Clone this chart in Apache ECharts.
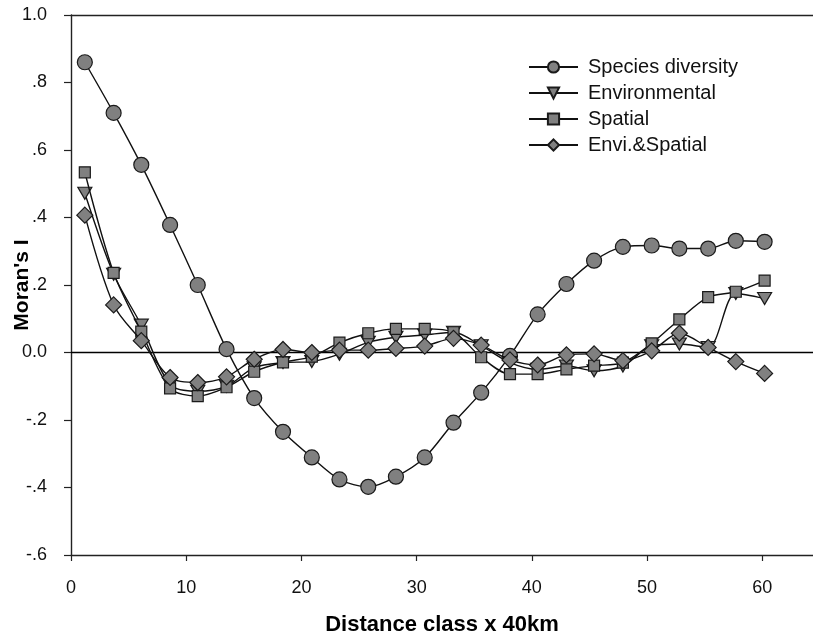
<!DOCTYPE html>
<html>
<head>
<meta charset="utf-8">
<script src="https://cdn.jsdelivr.net/npm/echarts@6/dist/echarts.min.js"></script>
<style>
html,body{margin:0;padding:0;background:#fff;}
#chart{width:813px;height:637px;}
</style>
</head>
<body>
<div id="chart"></div>
<script>
// Distance classes (x 40km)
var distanceClasses = [1.2, 3.7, 6.1, 8.6, 11.0, 13.5, 15.9, 18.4, 20.9, 23.3, 25.8, 28.2, 30.7, 33.2, 35.6, 38.1, 40.5, 43.0, 45.4, 47.9, 50.4, 52.8, 55.3, 57.7, 60.2];

var speciesDiversity = [0.86, 0.71, 0.556, 0.378, 0.2, 0.01, -0.135, -0.235, -0.311, -0.376, -0.398, -0.368, -0.311, -0.208, -0.119, -0.01, 0.113, 0.203, 0.272, 0.313, 0.317, 0.308, 0.308, 0.331, 0.328];
var environmental = [0.472, 0.232, 0.081, -0.095, -0.115, -0.1, -0.045, -0.03, -0.027, -0.005, 0.03, 0.045, 0.052, 0.06, 0.02, -0.03, -0.05, -0.04, -0.054, -0.04, 0.02, 0.025, 0.015, 0.175, 0.16];
var spatial = [0.534, 0.236, 0.062, -0.106, -0.129, -0.103, -0.057, -0.029, -0.012, 0.029, 0.057, 0.07, 0.07, 0.06, -0.014, -0.064, -0.064, -0.05, -0.039, -0.03, 0.027, 0.098, 0.164, 0.18, 0.213];
var enviSpatial = [0.407, 0.141, 0.035, -0.074, -0.089, -0.072, -0.02, 0.009, 0.0, 0.007, 0.007, 0.012, 0.019, 0.042, 0.022, -0.022, -0.037, -0.007, -0.004, -0.024, 0.005, 0.057, 0.015, -0.027, -0.062];

var seriesNames = ['Species diversity', 'Environmental', 'Spatial', 'Envi.&Spatial'];
var yTickValues = [-0.6, -0.4, -0.2, 0, 0.2, 0.4, 0.6, 0.8, 1.0];
var yTickLabels = ['-.6', '-.4', '-.2', '0.0', '.2', '.4', '.6', '.8', '1.0'];
var xTickValues = [0, 10, 20, 30, 40, 50, 60];
var xTickLabels = ['0', '10', '20', '30', '40', '50', '60'];

function pairs(vals) {
  return distanceClasses.map(function (x, i) { return [x, vals[i]]; });
}

var FONT = 'Liberation Sans, Arial, sans-serif';
var markerStyle = { color: '#808080', borderColor: '#1a1a1a', borderWidth: 1.2 };
var lineStyle = { color: '#111', width: 1.4 };

function mkSeries(name, vals, symbol, size, z) {
  return {
    name: name,
    type: 'line',
    data: pairs(vals),
    symbol: symbol,
    symbolSize: size,
    showAllSymbol: true,
    smooth: 0.3,
    lineStyle: lineStyle,
    itemStyle: markerStyle,
    z: z,
    emphasis: { disabled: true },
    animation: false
  };
}

var series = [
  mkSeries(seriesNames[0], speciesDiversity, 'circle', 15, 5),
  mkSeries(seriesNames[1], environmental, 'path://M0,0 L10,0 L5,9 Z', [14, 12], 6),
  mkSeries(seriesNames[2], spatial, 'rect', 11, 7),
  mkSeries(seriesNames[3], enviSpatial, 'diamond', 16, 8)
];
series[0].markLine = {
  silent: true,
  symbol: 'none',
  label: { show: false },
  lineStyle: { color: '#000', width: 1.4, type: 'solid' },
  data: [{ yAxis: 0 }]
};

function lookup(vals, labels, v) {
  for (var i = 0; i < vals.length; i++) {
    if (Math.abs(v - vals[i]) < 1e-6) return labels[i];
  }
  return '';
}

var chart = echarts.init(document.getElementById('chart'), null, { renderer: 'canvas' });
chart.setOption({
  backgroundColor: '#fff',
  animation: false,
  textStyle: { fontFamily: FONT },
  grid: { left: 71, right: 0, top: 15, bottom: 82, containLabel: false, outerBoundsMode: 'none' },
  legend: {
    orient: 'vertical',
    left: 528,
    top: 57,
    padding: 0,
    itemWidth: 49,
    itemHeight: 14,
    itemGap: 6,
    data: seriesNames,
    textStyle: { fontSize: 20, color: '#111', fontFamily: FONT, padding: [0, 0, 0, 5] }
  },
  xAxis: [{
    type: 'value',
    min: 0,
    max: 64.4,
    position: 'bottom',
    name: 'Distance class x 40km',
    nameLocation: 'middle',
    nameGap: 59,
    nameMoveOverlap: false,
    nameTextStyle: { fontSize: 22, fontWeight: 'bold', color: '#000', fontFamily: FONT },
    axisLine: { show: true, onZero: false, lineStyle: { color: '#222', width: 1.4 } },
    axisTick: { show: true, length: 6, customValues: xTickValues, lineStyle: { color: '#222', width: 1.2 } },
    axisLabel: {
      fontSize: 18, color: '#111', margin: 24,
      customValues: xTickValues,
      formatter: function (v) { return lookup(xTickValues, xTickLabels, v); }
    },
    splitLine: { show: false }
  }, {
    type: 'value',
    min: 0,
    max: 64.4,
    position: 'top',
    axisLine: { show: true, onZero: false, lineStyle: { color: '#222', width: 1.4 } },
    axisTick: { show: false },
    axisLabel: { show: false },
    splitLine: { show: false }
  }],
  yAxis: {
    type: 'value',
    min: -0.6,
    max: 1.0,
    interval: 0.2,
    name: "Moran's I",
    nameLocation: 'middle',
    nameGap: 38,
    nameMoveOverlap: false,
    nameRotate: 90,
    nameTextStyle: { fontSize: 21, fontWeight: 'bold', color: '#000', fontFamily: FONT },
    axisLine: { show: true, onZero: false, lineStyle: { color: '#222', width: 1.4 } },
    axisTick: { show: true, length: 7, lineStyle: { color: '#222', width: 1.2 } },
    axisLabel: {
      fontSize: 18, color: '#111', margin: 24,
      formatter: function (v) { return lookup(yTickValues, yTickLabels, v); }
    },
    splitLine: { show: false }
  },
  series: series
});
</script>
</body>
</html>
